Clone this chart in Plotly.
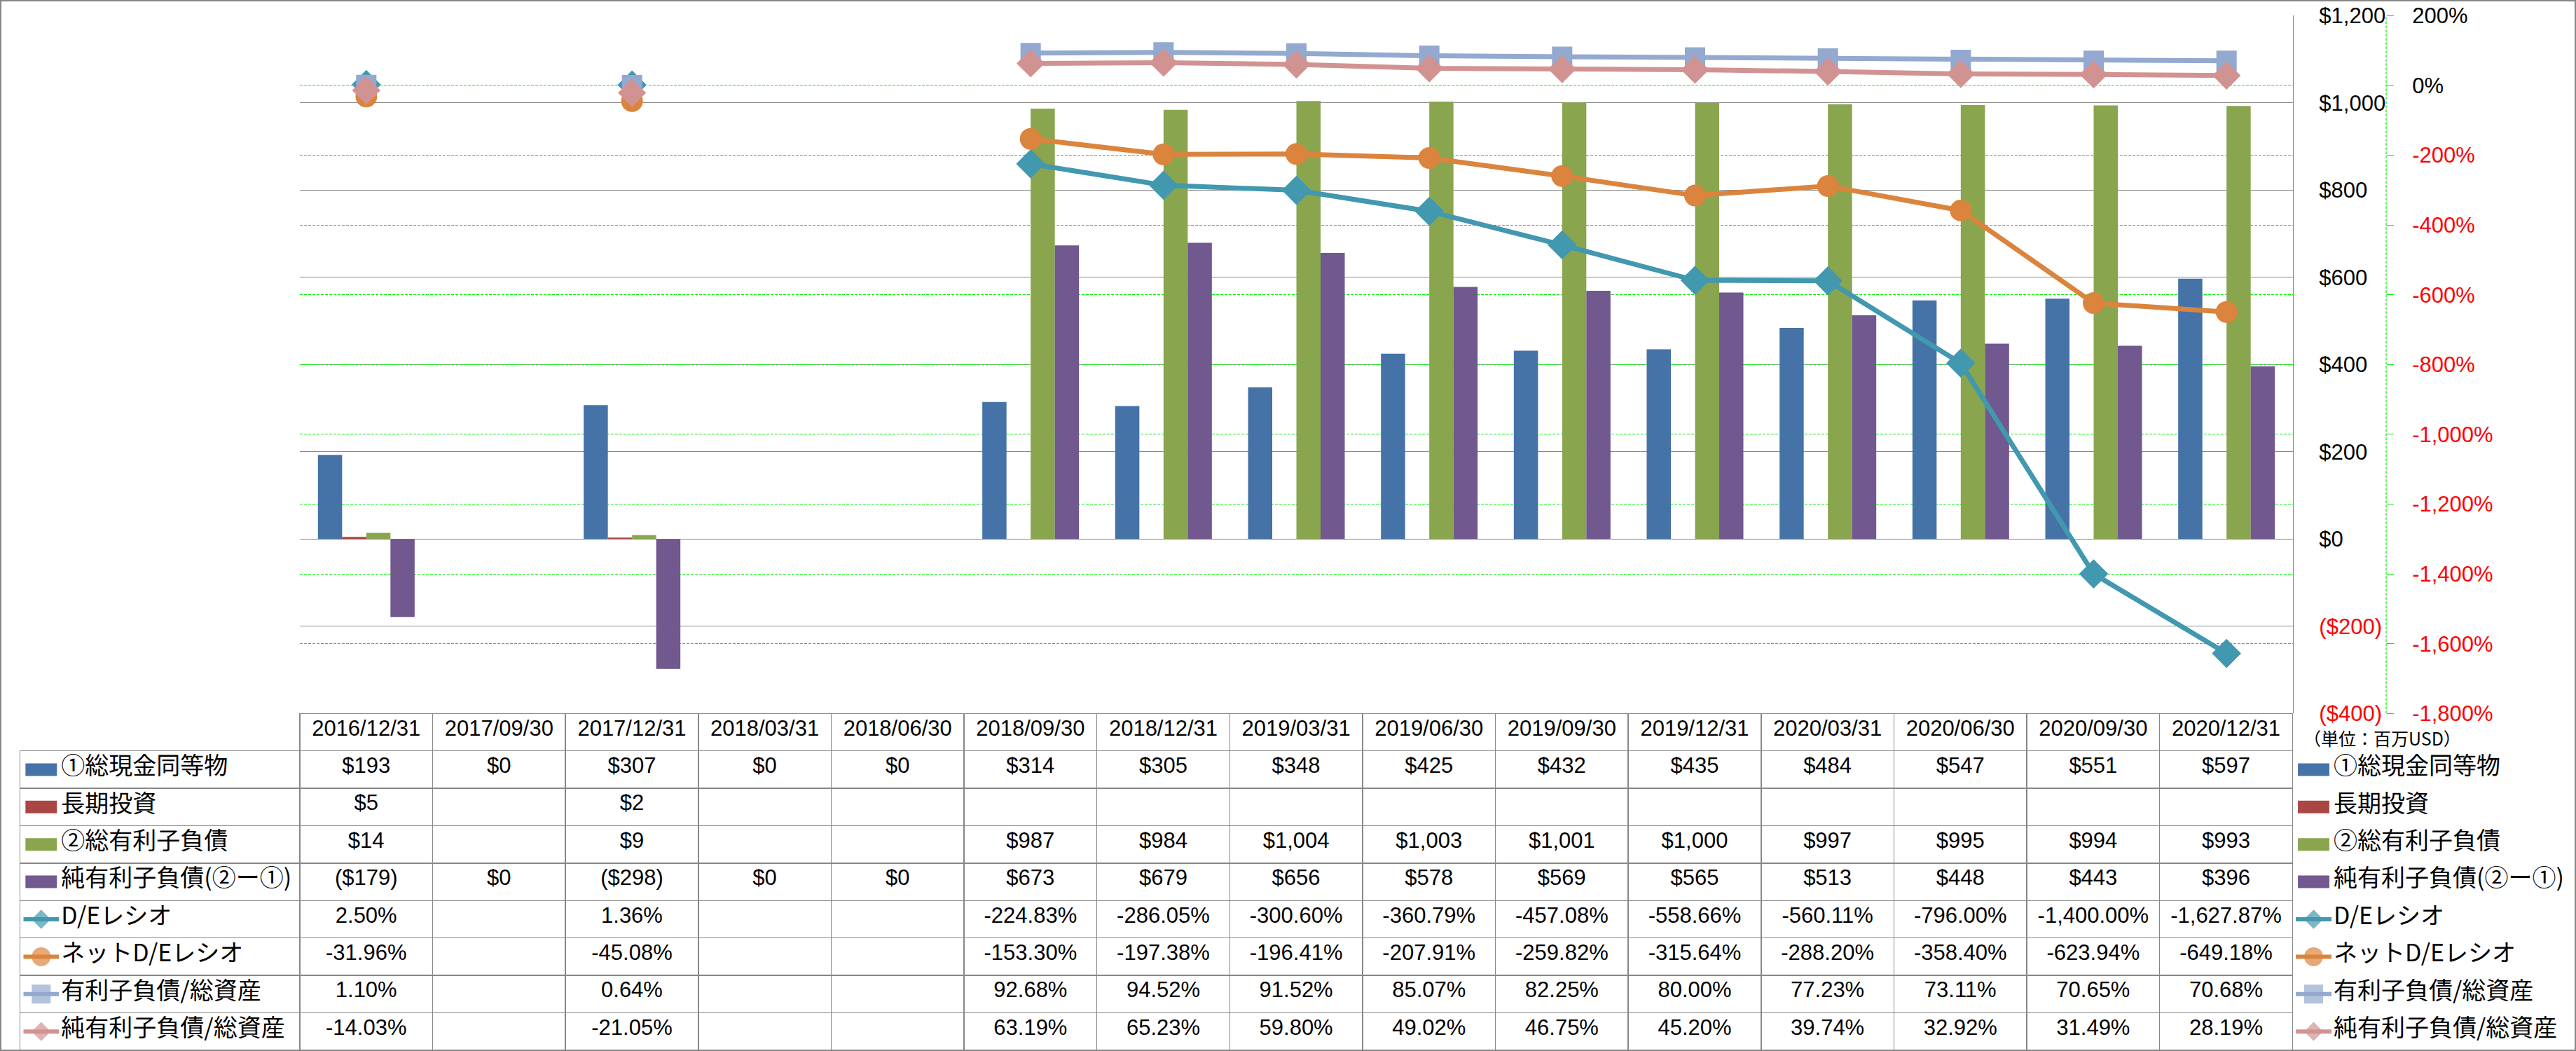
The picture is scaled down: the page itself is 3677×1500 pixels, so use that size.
import plotly.graph_objects as go

# ---------------- data ----------------
categories = ["2016/12/31", "2017/09/30", "2017/12/31", "2018/03/31", "2018/06/30",
              "2018/09/30", "2018/12/31", "2019/03/31", "2019/06/30", "2019/09/30",
              "2019/12/31", "2020/03/31", "2020/06/30", "2020/09/30", "2020/12/31"]

cash = [193, 0, 307, 0, 0, 314, 305, 348, 425, 432, 435, 484, 547, 551, 597]
lt_invest = [5, None, 2, None, None, None, None, None, None, None, None, None, None, None, None]
debt = [14, None, 9, None, None, 987, 984, 1004, 1003, 1001, 1000, 997, 995, 994, 993]
net_debt = [-179, 0, -298, 0, 0, 673, 679, 656, 578, 569, 565, 513, 448, 443, 396]

de_ratio = [2.50, None, 1.36, None, None, -224.83, -286.05, -300.60, -360.79, -457.08,
            -558.66, -560.11, -796.00, -1400.00, -1627.87]
net_de_ratio = [-31.96, None, -45.08, None, None, -153.30, -197.38, -196.41, -207.91, -259.82,
                -315.64, -288.20, -358.40, -623.94, -649.18]
debt_to_assets = [1.10, None, 0.64, None, None, 92.68, 94.52, 91.52, 85.07, 82.25,
                  80.00, 77.23, 73.11, 70.65, 70.68]
net_debt_to_assets = [-14.03, None, -21.05, None, None, 63.19, 65.23, 59.80, 49.02, 46.75,
                      45.20, 39.74, 32.92, 31.49, 28.19]

series_names = ["①総現金同等物", "長期投資", "②総有利子負債", "純有利子負債(②ー①)",
                "D/Eレシオ", "ネットD/Eレシオ", "有利子負債/総資産", "純有利子負債/総資産"]

usd_ticks = [-400, -200, 0, 200, 400, 600, 800, 1000, 1200]
usd_ticktext = ["($400)", "($200)", "$0", "$200", "$400", "$600", "$800", "$1,000", "$1,200"]
pct_ticks = [-1800, -1600, -1400, -1200, -1000, -800, -600, -400, -200, 0, 200]
pct_ticktext = ["-1,800%", "-1,600%", "-1,400%", "-1,200%", "-1,000%", "-800%", "-600%",
                "-400%", "-200%", "0%", "200%"]
unit_label = "（単位：百万USD）"

# ---------------- styles ----------------
W, H = 3677, 1500
C_CASH, C_LT, C_DEBT, C_NET = "#4572A7", "#AA4643", "#89A54E", "#71588F"
C_DE, C_NDE, C_DA, C_NDA = "#4198AF", "#DB843D", "#93A9CF", "#D19392"
GRAY = "#878787"
GREEN = "#00EE00"
RED = "#FF0000"
CLEAR = "rgba(0,0,0,0)"
LATIN = "Liberation Sans"
CJK = "Noto Sans CJK JP"


def px_x(p):
    return p / W


def px_y(p):
    return 1 - p / H


PLOT_L, PLOT_R, PLOT_T, PLOT_B = 428, 3273, 22.3, 1018.3
TABLE_L = 28.3
ROW_H = 53.4


def red_if_neg(txt, val):
    return f'<span style="color:{RED}">{txt}</span>' if val < 0 else txt


def fmt_usd(v):
    if v is None:
        return ""
    return f"(${-v:,})" if v < 0 else f"${v:,}"


def fmt_pct(v):
    if v is None:
        return ""
    return f"{v:,.2f}%"


fig = go.Figure()

bar_series = [(cash, C_CASH), (lt_invest, C_LT), (debt, C_DEBT), (net_debt, C_NET)]
for (vals, col), name in zip(bar_series, series_names[:4]):
    fig.add_trace(go.Bar(x=categories, y=vals, name=name, marker=dict(color=col, line=dict(width=0)),
                         showlegend=False, xaxis="x", yaxis="y"))

line_series = [(de_ratio, C_DE, "diamond", 32), (net_de_ratio, C_NDE, "circle", 31),
               (debt_to_assets, C_DA, "square", 29), (net_debt_to_assets, C_NDA, "diamond", 31)]
for (vals, col, sym, sz), name in zip(line_series, series_names[4:]):
    fig.add_trace(go.Scatter(x=categories, y=vals, name=name, mode="lines+markers",
                             line=dict(color=col, width=7), connectgaps=False,
                             marker=dict(symbol=sym, size=sz, color=col, line=dict(width=0)),
                             showlegend=False, xaxis="x", yaxis="y2"))

# legend keys (left column of table and right-hand legend)
key_styles = [("bar", C_CASH, None), ("bar", C_LT, None), ("bar", C_DEBT, None), ("bar", C_NET, None),
              ("line", C_DE, "diamond"), ("line", C_NDE, "circle"), ("line", C_DA, "square"),
              ("line", C_NDA, "diamond")]
KEY_BAR_X = [0.06, 0.94]
KEY_LINE_X = [0.0, 0.5, 1.0]
KEY_MSIZE = {"diamond": 21, "circle": 27, "square": 27}
for i, (kind, col, sym) in enumerate(key_styles):
    for xa in ("x3", "x4"):
        if kind == "bar":
            fig.add_trace(go.Scatter(x=KEY_BAR_X, y=[i, i], mode="lines",
                                     line=dict(color=col, width=18), xaxis=xa, yaxis="y3",
                                     showlegend=False, hoverinfo="skip"))
        else:
            fig.add_trace(go.Scatter(x=KEY_LINE_X, y=[i, i, i], mode="lines+markers",
                                     line=dict(color=col, width=6),
                                     marker=dict(symbol=sym, size=[0, KEY_MSIZE[sym], 0], color=col,
                                                 line=dict(width=0)),
                                     xaxis=xa, yaxis="y3", showlegend=False, hoverinfo="skip"))

# data table
usd_rows = [cash, lt_invest, debt, net_debt]
pct_rows = [de_ratio, net_de_ratio, debt_to_assets, net_debt_to_assets]
cols = [["\u3000\u2002" + n for n in series_names]]
for j in range(len(categories)):
    cols.append([fmt_usd(r[j]) for r in usd_rows] + [fmt_pct(r[j]) for r in pct_rows])

ncat = len(categories)
fig.add_trace(go.Table(
    domain=dict(x=[px_x(TABLE_L), px_x(PLOT_R)], y=[0, px_y(PLOT_B)]),
    columnwidth=[PLOT_L - TABLE_L] + [(PLOT_R - PLOT_L) / ncat] * ncat,
    header=dict(values=[""] + categories, height=ROW_H, align="center",
                line=dict(color=[CLEAR] + [GRAY] * ncat, width=1.5),
                fill=dict(color=CLEAR), font=dict(family=LATIN, size=31, color="black")),
    cells=dict(values=cols, height=ROW_H, align=["left"] + ["center"] * ncat,
               line=dict(color=GRAY, width=1.5), fill=dict(color=CLEAR),
               font=dict(family=[CJK] + [LATIN] * ncat, size=[34] + [31] * ncat, color="black")),
))

# right-hand legend labels
fig.add_trace(go.Table(
    domain=dict(x=[px_x(3323), 1], y=[0, px_y(PLOT_B)]),
    header=dict(values=[""], height=ROW_H, line=dict(color=CLEAR), fill=dict(color=CLEAR)),
    cells=dict(values=[series_names], height=ROW_H, align="left", line=dict(color=CLEAR),
               fill=dict(color=CLEAR), font=dict(family=CJK, size=34, color="black")),
))

fig.update_layout(
    width=W, height=H, autosize=False,
    margin=dict(l=0, r=0, t=0, b=0, pad=0, autoexpand=False),
    paper_bgcolor="white", plot_bgcolor="white",
    font=dict(family=LATIN + ", " + CJK, size=31, color="black"),
    barmode="group", bargap=0.2724, bargroupgap=0,
    showlegend=False, hovermode=False,
    xaxis=dict(domain=[px_x(PLOT_L), px_x(PLOT_R)], type="category", range=[-0.5, ncat - 0.5],
               showgrid=False, showticklabels=False, ticks="", showline=False, zeroline=False,
               automargin=False),
    yaxis=dict(domain=[px_y(PLOT_B), px_y(PLOT_T)], range=[-400, 1200], side="right", anchor="x",
               tickvals=usd_ticks, ticktext=[red_if_neg(t, v) for t, v in zip(usd_ticktext, usd_ticks)],
               showline=True, linecolor=GRAY, linewidth=1.3, showgrid=True, gridcolor=GRAY, gridwidth=1.3,
               zeroline=False, ticks="", ticklabelstandoff=30, tickfont=dict(family=LATIN, size=31),
               automargin=False),
    yaxis2=dict(overlaying="y", side="right", anchor="free", position=px_x(3406),
                range=[-1800, 200], tickvals=pct_ticks,
                ticktext=[red_if_neg(t, v) for t, v in zip(pct_ticktext, pct_ticks)],
                showgrid=True, gridcolor=GREEN, gridwidth=1.2, griddash="4px,2px", zeroline=False,
                ticks="outside", ticklen=10, tickcolor=GREEN, tickwidth=1.2, showline=False,
                ticklabelstandoff=20, tickfont=dict(family=LATIN, size=31), automargin=False),
    xaxis3=dict(domain=[px_x(33.3), px_x(84.3)], range=[0, 1], visible=False, anchor="y3",
                automargin=False),
    xaxis4=dict(domain=[px_x(3277), px_x(3328)], range=[0, 1], visible=False, anchor="y3",
                automargin=False),
    yaxis3=dict(domain=[px_y(PLOT_B + 9 * ROW_H), px_y(PLOT_B + ROW_H)],
                range=[len(series_names) - 0.5, -0.5], visible=False, anchor="x3", automargin=False),
    shapes=[
        dict(type="line", xref="paper", yref="y domain", x0=px_x(3406), x1=px_x(3406), y0=0, y1=1,
             line=dict(color=GREEN, width=1.2, dash="4px,2px")),
        dict(type="rect", xref="paper", yref="paper", x0=0, x1=1, y0=0, y1=1,
             line=dict(color=GRAY, width=4), layer="above"),
    ],
    annotations=[
        dict(text=unit_label, xref="paper", yref="paper", x=px_x(3287), y=px_y(1053),
             xanchor="left", yanchor="middle", showarrow=False, borderpad=0,
             font=dict(family=CJK, size=25, color="black")),
    ],
)

fig.write_html("out.html", config={"displayModeBar": False},
               post_script="document.body.style.margin='0';")
